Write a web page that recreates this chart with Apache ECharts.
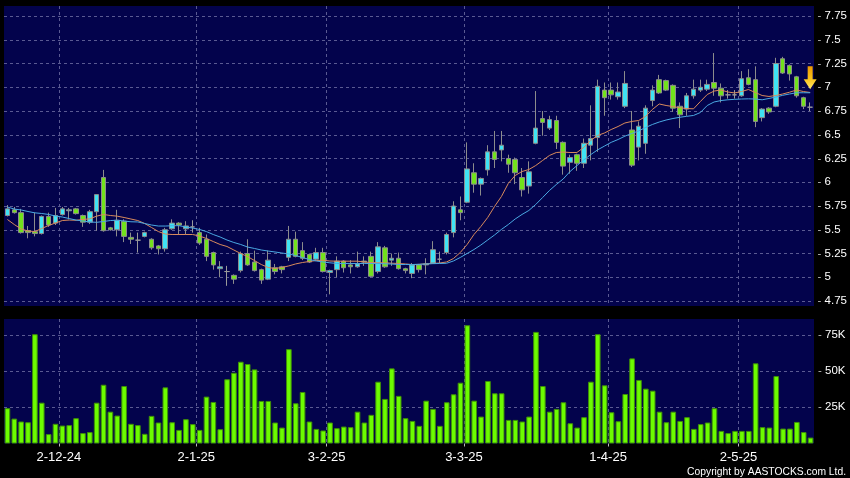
<!DOCTYPE html>
<html>
<head>
<meta charset="utf-8">
<script src="https://cdn.jsdelivr.net/npm/echarts@6/dist/echarts.min.js"></script>
<style>
html,body{margin:0;padding:0;background:#000;}
#chart{width:850px;height:478px;}
</style>
</head>
<body>
<div id="chart"></div>
<script>
// ---- data ----
const dates = [
'21-11-24','22-11-24','25-11-24','26-11-24','27-11-24','28-11-24','29-11-24',
'2-12-24','3-12-24','4-12-24','5-12-24','6-12-24','9-12-24','10-12-24','11-12-24','12-12-24','13-12-24',
'16-12-24','17-12-24','18-12-24','19-12-24','20-12-24','23-12-24','24-12-24','27-12-24','30-12-24','31-12-24',
'2-1-25','3-1-25','6-1-25','7-1-25','8-1-25','9-1-25','10-1-25','13-1-25','14-1-25','15-1-25','16-1-25','17-1-25',
'20-1-25','21-1-25','22-1-25','23-1-25','24-1-25','27-1-25','28-1-25',
'3-2-25','4-2-25','5-2-25','6-2-25','7-2-25','10-2-25','11-2-25','12-2-25','13-2-25','14-2-25',
'17-2-25','18-2-25','19-2-25','20-2-25','21-2-25','24-2-25','25-2-25','26-2-25','27-2-25','28-2-25',
'3-3-25','4-3-25','5-3-25','6-3-25','7-3-25','10-3-25','11-3-25','12-3-25','13-3-25','14-3-25',
'17-3-25','18-3-25','19-3-25','20-3-25','21-3-25','24-3-25','25-3-25','26-3-25','27-3-25','28-3-25','31-3-25',
'1-4-25','2-4-25','3-4-25','7-4-25','8-4-25','9-4-25','10-4-25','11-4-25','14-4-25','15-4-25','16-4-25','17-4-25',
'22-4-25','23-4-25','24-4-25','25-4-25','28-4-25','29-4-25','30-4-25',
'2-5-25','6-5-25','7-5-25','8-5-25','9-5-25','12-5-25','13-5-25','14-5-25','15-5-25','16-5-25','19-5-25','20-5-25'
];
const tickDates = ['2-12-24','2-1-25','3-2-25','3-3-25','1-4-25','2-5-25'];

const opens = [5.65,5.71,5.68,5.49,5.48,5.46,5.64,5.57,5.66,5.70,5.72,5.65,5.58,5.69,6.05,5.52,5.50,5.59,5.42,5.39,
5.43,5.40,5.33,5.30,5.51,5.57,5.51,5.53,5.47,5.40,5.26,5.09,5.06,5.02,5.07,5.25,5.16,5.08,4.98,5.10,
5.11,5.21,5.40,5.28,5.24,5.19,5.26,5.05,5.08,5.17,5.13,5.11,5.16,5.22,5.06,5.31,5.18,5.20,5.09,5.04,
5.13,5.13,5.15,5.19,5.26,5.47,5.71,5.79,6.10,5.98,6.13,6.32,6.34,6.25,6.24,6.05,5.96,6.41,6.67,6.57,
6.65,6.42,6.21,6.29,6.20,6.39,6.47,6.97,6.97,6.90,6.80,6.55,6.37,6.41,6.86,7.08,7.07,7.02,6.80,6.77,
6.91,6.97,6.98,7.05,6.99,6.92,6.92,6.91,7.10,7.08,6.68,6.78,6.80,7.30,7.23,7.11,6.89,6.79];
const closes = [5.72,5.68,5.47,5.47,5.46,5.64,5.55,5.65,5.72,5.71,5.67,5.58,5.69,5.87,5.49,5.50,5.60,5.43,5.40,5.39,
5.47,5.31,5.30,5.50,5.57,5.55,5.54,5.53,5.36,5.22,5.13,5.11,5.06,4.98,5.25,5.13,5.07,4.97,5.18,5.06,
5.08,5.40,5.22,5.20,5.16,5.26,5.06,5.07,5.17,5.10,5.11,5.14,5.17,5.01,5.32,5.11,5.20,5.09,5.07,5.13,
5.08,5.14,5.29,5.19,5.45,5.75,5.68,6.14,5.98,6.04,6.32,6.24,6.39,6.19,6.10,5.92,6.11,6.57,6.63,6.66,
6.42,6.17,6.26,6.20,6.41,6.46,7.01,6.89,6.92,6.95,7.04,6.18,6.59,6.78,6.97,6.94,6.97,6.78,6.71,6.91,
6.98,7.00,7.03,6.99,6.91,6.92,6.92,7.09,7.03,6.64,6.77,6.74,7.25,7.15,7.14,6.91,6.80,6.79];
const lows = [5.64,5.67,5.46,5.41,5.43,5.45,5.53,5.55,5.65,5.61,5.66,5.53,5.56,5.49,5.48,5.49,5.43,5.37,5.35,5.26,
5.42,5.29,5.24,5.27,5.50,5.45,5.45,5.47,5.34,5.17,5.08,5.00,4.91,4.93,5.05,5.12,5.06,4.93,4.97,5.03,
5.04,5.17,5.21,5.18,5.15,5.18,5.05,4.82,5.00,5.05,5.04,5.10,5.12,5.00,5.04,5.10,5.12,5.08,5.04,4.99,
5.05,5.03,5.14,5.15,5.24,5.42,5.60,5.78,5.89,5.86,6.07,6.15,6.22,6.10,5.98,5.85,5.88,6.40,6.49,6.55,
6.35,6.08,6.09,6.12,6.15,6.23,6.32,6.70,6.87,6.87,6.78,6.16,6.23,6.30,6.80,6.93,6.96,6.74,6.57,6.70,
6.88,6.95,6.96,6.91,6.84,6.88,6.88,6.90,7.02,6.58,6.64,6.72,6.79,7.14,7.07,6.89,6.77,6.75];
const highs = [5.76,5.74,5.72,5.54,5.68,5.65,5.68,5.73,5.74,5.73,5.73,5.66,5.71,5.87,6.13,5.53,5.71,5.61,5.47,5.47,
5.48,5.41,5.34,5.52,5.61,5.58,5.59,5.60,5.52,5.45,5.27,5.17,5.12,5.03,5.27,5.40,5.28,5.09,5.28,5.14,
5.12,5.54,5.48,5.37,5.25,5.31,5.31,5.08,5.22,5.18,5.18,5.27,5.22,5.27,5.37,5.33,5.25,5.26,5.10,5.15,
5.14,5.20,5.38,5.27,5.47,5.80,5.85,6.42,6.20,6.05,6.39,6.54,6.54,6.29,6.26,6.15,6.22,6.96,6.75,6.70,
6.70,6.43,6.29,6.30,6.46,6.81,7.08,7.05,7.05,7.05,7.17,6.75,6.64,6.81,7.02,7.13,7.08,7.03,6.84,6.94,
7.08,7.08,7.08,7.36,7.04,6.97,6.97,7.17,7.19,7.22,6.78,6.79,7.31,7.32,7.24,7.12,6.90,6.84];
const volumes = [24400,17200,15200,14700,75500,28200,6500,13600,12400,12700,17500,7200,7900,28200,40600,22000,19300,39700,13600,12700,
6700,19100,14500,38800,14700,9400,16800,13400,9400,32400,28700,9900,44400,48900,56500,54900,51200,29400,29400,14500,
11000,65200,27800,35600,15200,10100,9000,14500,10600,11700,11300,22000,14500,19800,42700,30800,51900,32900,17500,15600,
12200,29600,23900,12200,28500,34000,42000,81700,29600,18600,43200,34700,34700,16300,16300,15200,18600,77100,39700,22000,
23900,28500,14000,11000,18200,42700,75500,40200,21600,15400,34200,58800,43900,37900,36500,22000,14700,22000,15600,18200,
10100,13400,14500,24400,8700,7200,8700,8700,8700,55400,11300,11000,46600,10300,10300,14900,7900,4100];
const ma10 = [5.608,5.555,5.508,5.487,5.481,5.513,5.545,5.571,5.597,5.602,5.600,5.608,5.615,5.643,5.661,5.650,5.643,5.629,5.613,5.597,
5.566,5.524,5.481,5.455,5.450,5.450,5.450,5.450,5.434,5.408,5.376,5.345,5.324,5.287,5.250,5.218,5.176,5.134,5.103,5.092,
5.103,5.119,5.140,5.155,5.166,5.176,5.179,5.171,5.169,5.169,5.169,5.169,5.161,5.155,5.152,5.152,5.148,5.145,5.140,5.134,
5.136,5.142,5.145,5.150,5.161,5.197,5.260,5.345,5.450,5.534,5.629,5.745,5.850,5.987,6.071,6.113,6.134,6.176,6.229,6.282,
6.313,6.318,6.313,6.313,6.366,6.439,6.492,6.518,6.555,6.587,6.624,6.640,6.650,6.692,6.766,6.824,6.808,6.797,6.784,6.776,
6.773,6.850,6.924,6.960,6.971,6.950,6.940,6.955,6.976,6.945,6.913,6.903,6.913,6.929,6.948,6.971,6.955,6.945];
const ma20 = [5.739,5.718,5.708,5.692,5.678,5.671,5.661,5.645,5.634,5.618,5.602,5.592,5.582,5.578,5.587,5.597,5.600,5.592,5.584,5.582,
5.566,5.550,5.539,5.539,5.542,5.543,5.529,5.518,5.503,5.481,5.450,5.424,5.392,5.366,5.345,5.318,5.303,5.287,5.276,5.266,
5.255,5.245,5.229,5.208,5.187,5.171,5.161,5.152,5.145,5.145,5.145,5.145,5.145,5.145,5.145,5.142,5.139,5.134,5.134,5.134,
5.136,5.140,5.143,5.145,5.147,5.171,5.208,5.250,5.292,5.339,5.392,5.445,5.503,5.555,5.613,5.661,5.703,5.766,5.839,5.913,
5.976,6.034,6.113,6.175,6.235,6.290,6.340,6.380,6.420,6.450,6.485,6.513,6.540,6.576,6.608,6.634,6.655,6.671,6.684,6.694,
6.703,6.734,6.808,6.845,6.860,6.868,6.873,6.876,6.878,6.876,6.868,6.882,6.897,6.915,6.929,6.942,6.942,6.942];
const signalIndex = 117;   // bar the yellow signal arrow sits on
const signalPrice = 7.10;  // price level at the arrow's centre

// ---- styles ----
const NAVY = '#03034c';
const GRID_LINE = {color: '#5a5a92', type: [3, 3], width: 1};
const FONT = 'Liberation Sans';

const boundaries = [''].concat(dates); // category j = right edge of bar j-1
const isTick = (i, v) => tickDates.indexOf(v) >= 0;

const candleData = dates.map((d, i) => [opens[i], closes[i], lows[i], highs[i]]);

const chart = echarts.init(document.getElementById('chart'), null, {renderer: 'canvas'});
const option = {
  backgroundColor: '#000',
  animation: false,
  title: {
    text: 'Copyright by AASTOCKS.com Ltd.',
    right: 4, bottom: 1, padding: 0,
    textStyle: {color: '#ffffff', fontSize: 10.3, fontWeight: 'normal', fontFamily: FONT}
  },
  grid: [
    {left: 4, width: 810, top: 6, height: 300, show: true, backgroundColor: NAVY, borderWidth: 0},
    {left: 4, width: 810, top: 4.125, height: 320.625, show: false},
    {left: 4, width: 810, top: 319, height: 124.5, show: true, backgroundColor: NAVY, borderWidth: 0}
  ],
  xAxis: [
    {gridIndex: 0, type: 'category', data: boundaries, boundaryGap: false,
     axisLine: {show: false}, axisTick: {show: false}, axisLabel: {show: false},
     splitLine: {show: true, interval: isTick, lineStyle: GRID_LINE}},
    {gridIndex: 1, type: 'category', data: dates, show: false},
    {gridIndex: 2, type: 'category', data: dates, show: false, position: 'top'},
    {gridIndex: 2, type: 'category', data: boundaries, boundaryGap: false, position: 'bottom',
     axisLine: {show: false},
     axisTick: {show: true, interval: isTick, length: 3, lineStyle: {color: '#bbbbbb'}},
     axisLabel: {interval: isTick, color: '#ffffff', fontSize: 13, fontFamily: FONT, margin: 7},
     splitLine: {show: true, interval: isTick, lineStyle: GRID_LINE}}
  ],
  yAxis: [
    {gridIndex: 0, type: 'value', min: 0, max: 1, show: false},
    {gridIndex: 1, type: 'value', position: 'right', min: 4.5, max: 7.875, interval: 0.25,
     axisLine: {show: false}, axisTick: {show: false},
     axisLabel: {
       margin: 4, fontFamily: FONT, fontSize: 11.5, color: '#ffffff',
       formatter: v => (v < 4.7 || v > 7.8) ? '' : '{d|-} ' + v,
       rich: {d: {color: '#bbbbbb', fontSize: 11.5, fontFamily: FONT}}
     },
     splitLine: {show: true, showMinLine: false, showMaxLine: false, lineStyle: GRID_LINE}},
    {gridIndex: 2, type: 'value', position: 'right', min: 0, max: 86000, interval: 25000,
     axisLine: {show: false}, axisTick: {show: false},
     axisLabel: {
       margin: 4, fontFamily: FONT, fontSize: 11.5, color: '#ffffff',
       formatter: v => (v <= 0 || v > 80000) ? '' : '{d|-} ' + (v / 1000) + 'K',
       rich: {d: {color: '#bbbbbb', fontSize: 11.5, fontFamily: FONT}}
     },
     splitLine: {show: true, showMinLine: false, showMaxLine: false, lineStyle: GRID_LINE}}
  ],
  series: [
    {
      type: 'candlestick', xAxisIndex: 1, yAxisIndex: 1, data: candleData, barWidth: 5,
      itemStyle: {
        color: '#3fe3f4', color0: '#72e21c',
        borderColor: '#8c8c8c', borderColor0: '#8c8c8c', borderColorDoji: '#9a9a9a', borderWidth: 1
      },
      markPoint: {
        symbol: 'path://M4,0 L9,0 L9,13 L13,13 L6.5,23 L0,13 L4,13 Z',
        symbolSize: [13, 23], symbolKeepAspect: false,
        label: {show: false},
        itemStyle: {
          color: new echarts.graphic.LinearGradient(0, 0, 0, 1, [
            {offset: 0, color: '#ee9a00'}, {offset: 0.55, color: '#f9c21a'}, {offset: 1, color: '#ffe96a'}
          ])
        },
        data: [{coord: [signalIndex, signalPrice]}]
      }
    },
    {type: 'line', xAxisIndex: 1, yAxisIndex: 1, data: ma10, symbol: 'none', silent: true,
     lineStyle: {color: '#d98a5c', width: 1}},
    {type: 'line', xAxisIndex: 1, yAxisIndex: 1, data: ma20, symbol: 'none', silent: true,
     lineStyle: {color: '#4aa8e2', width: 1}},
    {type: 'bar', xAxisIndex: 2, yAxisIndex: 2, data: volumes, barWidth: '82%',
     itemStyle: {color: '#6cfc00', borderColor: '#3f8f08', borderWidth: 1}}
  ]
};
chart.setOption(option);
</script>
</body>
</html>
